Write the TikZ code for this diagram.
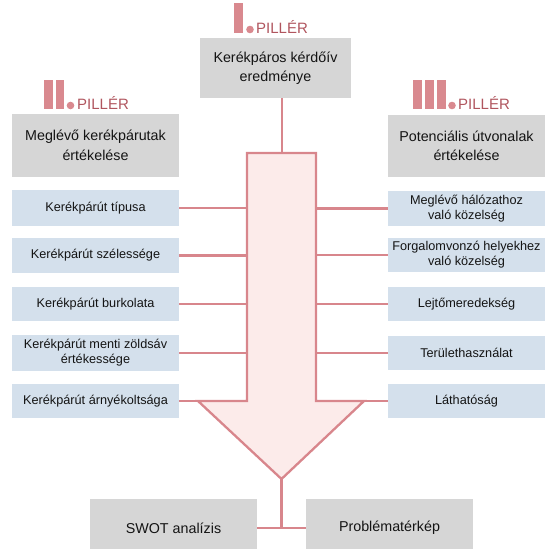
\documentclass[tikz,border=0pt]{standalone}
\usepackage{fontspec}
\setmainfont{Liberation Sans}
\definecolor{boxgrey}{HTML}{D6D6D6}
\definecolor{boxblue}{HTML}{D4E0EC}
\definecolor{pinkline}{HTML}{D8868C}
\definecolor{pinkbar}{HTML}{D9898F}
\definecolor{pinkfill}{HTML}{FCEBEA}
\definecolor{pillertext}{HTML}{B0555E}
\definecolor{txt}{HTML}{141414}
\tikzset{
  greybox/.style={fill=boxgrey, draw=none, inner sep=0pt, align=center, text=txt,
    font=\fontsize{14.3}{19.5}\selectfont},
  bluebox/.style={fill=boxblue, draw=none, inner sep=0pt, align=center, text=txt,
    minimum width=167pt, font=\fontsize{12.7}{15}\selectfont},
  conn/.style={draw=pinkline, line width=2.3pt},
  bar/.style={fill=pinkbar, draw=none},
  piller/.style={anchor=base west, inner sep=0pt, text=pillertext,
    font=\fontsize{15}{15}\selectfont}
}
\begin{document}
\begin{tikzpicture}[x=1pt,y=-1pt]
\useasboundingbox (0,0) rectangle (547,549);
\clip (0,0) rectangle (547,549);

% pillar markers
\fill[bar] (234,3) rectangle (243,33);
\fill[bar] (250,29.5) circle (3.8);
\node[piller] (p1) at (256,33) {PILLÉR};

\fill[bar] (44,80) rectangle (52.5,109);
\fill[bar] (55.5,80) rectangle (64,109);
\fill[bar] (70.5,105.5) circle (3.8);
\node[piller] (p2) at (77,109) {PILLÉR};

\fill[bar] (413,80) rectangle (421.5,109);
\fill[bar] (425,80) rectangle (433.5,109);
\fill[bar] (437,80) rectangle (445.5,109);
\fill[bar] (452,105.5) circle (3.8);
\node[piller] (p3) at (458,109) {PILLÉR};

% header boxes
\node[greybox, minimum width=151pt, minimum height=60pt] (top) at (275.5,68) {Kerékpáros kérdőív\\eredménye};
\node[greybox, minimum width=167pt, minimum height=63pt] (left) at (95.5,145.5) {Meglévő kerékpárutak\\értékelése};
\node[greybox, minimum width=157pt, minimum height=62pt] (right) at (466.5,146) {Potenciális útvonalak\\értékelése};

% big arrow
\coordinate (sTL) at (247,153);
\coordinate (sTR) at (316,153);
\coordinate (hL) at (198,401);
\coordinate (hR) at (364,401);
\coordinate (tip) at (281.5,479);
\draw[conn, fill=pinkfill, line join=miter]
  (sTL) -- (sTR) -- (316,401) -- (hR) -- (tip) -- (hL) -- (247,401) -- cycle;
\coordinate (topin) at (282,153);
\draw[conn] (top.south -| topin) -- (topin);

% left items
\node[bluebox, minimum height=36pt] (l1) at (95.5,208) {Kerékpárút típusa};
\node[bluebox, minimum height=35pt] (l2) at (95.5,255.5) {Kerékpárút szélessége};
\node[bluebox, minimum height=34pt] (l3) at (95.5,304) {Kerékpárút burkolata};
\node[bluebox, minimum height=36pt] (l4) at (95.5,353) {Kerékpárút menti zöldsáv\\értékessége};
\node[bluebox, minimum height=34pt] (l5) at (95.5,401) {Kerékpárút árnyékoltsága};

% right items
\node[bluebox, minimum width=157pt, minimum height=35pt] (r1) at (466.5,208.5) {Meglévő hálózathoz\\való közelség};
\node[bluebox, minimum width=157pt, minimum height=34pt] (r2) at (466.5,255) {Forgalomvonzó helyekhez\\való közelség};
\node[bluebox, minimum width=157pt, minimum height=34pt] (r3) at (466.5,304) {Lejtőmeredekség};
\node[bluebox, minimum width=157pt, minimum height=34pt] (r4) at (466.5,353) {Területhasználat};
\node[bluebox, minimum width=157pt, minimum height=34pt] (r5) at (466.5,401) {Láthatóság};

% connectors left
\foreach \n in {l1,l2,l3,l4} {
  \draw[conn] (\n.east) -- (\n.east -| sTL);
}
\draw[conn] (l5.east) -- (hL);
% connectors right
\foreach \n in {r1,r2,r3,r4} {
  \draw[conn] (\n.west) -- (\n.west -| sTR);
}
\draw[conn] (r5.west) -- (hR);

% bottom
\node[greybox, minimum width=167pt, minimum height=58pt] (swot) at (173.5,528) {SWOT analízis};
\node[greybox, minimum width=167pt, minimum height=58pt] (prob) at (389.5,528) {Problématérkép};
\coordinate (join) at (281.5,528);
\draw[conn] (tip) -- (join);
\draw[conn] (swot.east) -- (prob.west);
\end{tikzpicture}
\end{document}
